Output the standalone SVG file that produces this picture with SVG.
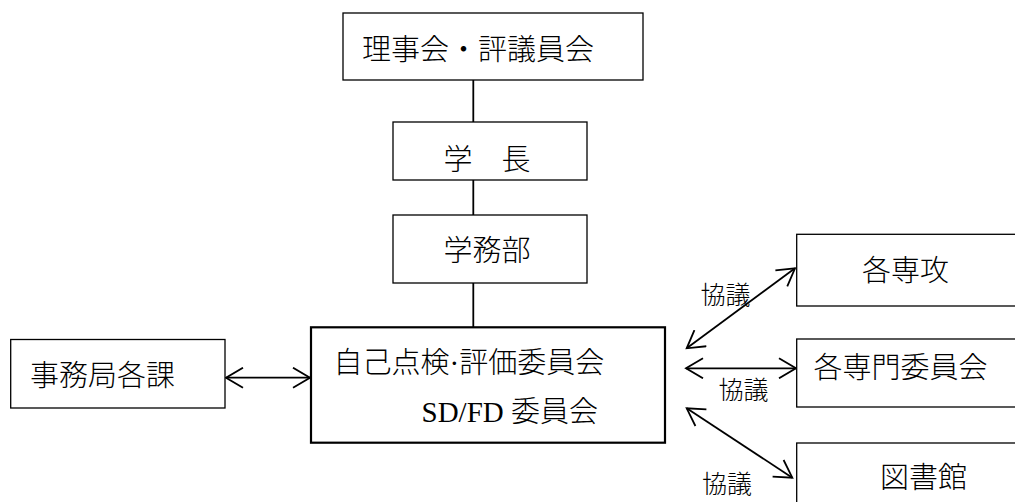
<svg xmlns="http://www.w3.org/2000/svg" width="1015" height="502" viewBox="0 0 1015 502">
<style>
.box{fill:#fff;stroke:#000;stroke-width:1.3}
.main{fill:#fff;stroke:#000;stroke-width:2.2}
.t{font-family:'Liberation Serif','Noto Sans CJK JP',sans-serif;font-size:29px;font-weight:300;fill:#000}
.s{font-family:'Liberation Serif','Noto Sans CJK JP',sans-serif;font-size:25px;font-weight:300;fill:#000}
.ln{stroke:#000;stroke-width:1.8;fill:none}
</style>
<defs>
<marker id="ah" viewBox="-18 -11 20 22" markerWidth="20" markerHeight="22" refX="0" refY="0" orient="auto-start-reverse" markerUnits="userSpaceOnUse">
<path d="M-17,-10 L0,0 L-17,10" fill="none" stroke="#000" stroke-width="1.8"/>
</marker>
</defs>
<rect width="1015" height="502" fill="#fff"/>
<g id="connectors">
<line class="ln" x1="473.3" y1="80" x2="473.3" y2="122"/>
<line class="ln" x1="473.3" y1="180" x2="473.3" y2="215"/>
<line class="ln" x1="473.3" y1="283" x2="473.3" y2="327"/>
<line class="ln" x1="226" y1="377.7" x2="310" y2="377.7" marker-start="url(#ah)" marker-end="url(#ah)"/>
<line class="ln" x1="686.7" y1="348.3" x2="795" y2="268.3" marker-start="url(#ah)" marker-end="url(#ah)"/>
<line class="ln" x1="686" y1="368.3" x2="796" y2="368.3" marker-start="url(#ah)" marker-end="url(#ah)"/>
<line class="ln" x1="686.7" y1="408.3" x2="792.3" y2="477.7" marker-start="url(#ah)" marker-end="url(#ah)"/>
<text class="s" x="700.5" y="304">協議</text>
<text class="s" x="718.5" y="399">協議</text>
<text class="s" x="702" y="493">協議</text>
</g>
<g id="board">
<rect class="box" x="343" y="13" width="300" height="67"/>
<text class="t" x="362" y="60">理事会・評議員会</text>
</g>
<g id="president">
<rect class="box" x="393" y="122" width="194" height="58"/>
<text class="t" x="443.5" y="170">学　長</text>
</g>
<g id="academic">
<rect class="box" x="393" y="215" width="194" height="68"/>
<text class="t" x="443.5" y="261">学務部</text>
</g>
<g id="secretariat">
<rect class="box" x="10.7" y="339.5" width="214.3" height="68.5"/>
<text class="t" x="30" y="386">事務局各課</text>
</g>
<g id="committee">
<rect class="main" x="311" y="327.3" width="354" height="115.4"/>
<text class="t" x="333.5" y="372.5">自己点検·評価委員会</text>
<text class="t" x="421.5" y="421.5">SD/FD 委員会</text>
</g>
<g id="majors">
<rect class="box" x="796.7" y="234.3" width="230" height="71.7"/>
<text class="t" x="862" y="281">各専攻</text>
</g>
<g id="committees">
<rect class="box" x="796.7" y="339" width="230" height="68"/>
<text class="t" x="813.5" y="377.5">各専門委員会</text>
</g>
<g id="library">
<rect class="box" x="796.7" y="443" width="230" height="70"/>
<text class="t" x="880" y="487.5">図書館</text>
</g>
</svg>
